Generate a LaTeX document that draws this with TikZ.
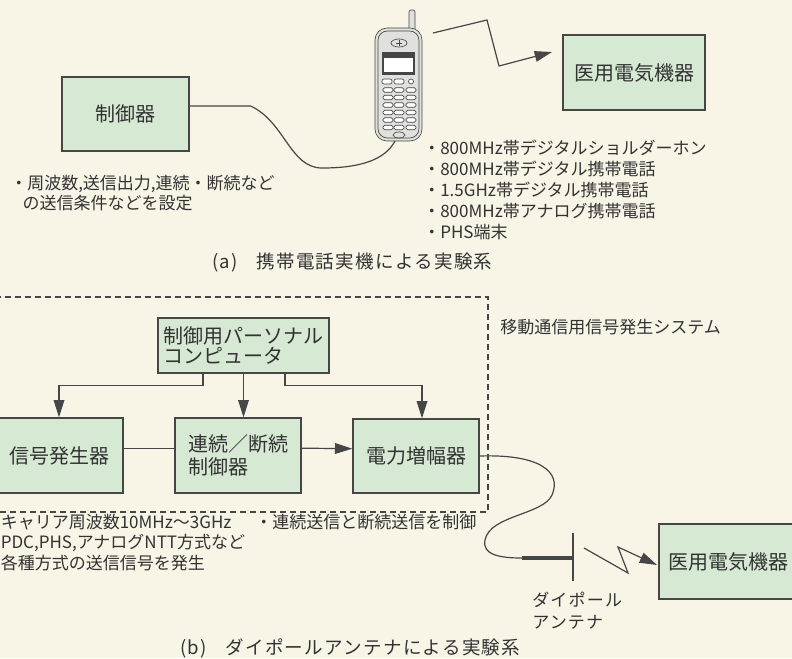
\documentclass[tikz,border=0pt]{standalone}
\usepackage{fontspec}
\setmainfont{Noto Sans CJK JP}
\newfontfamily\spaced{Noto Sans CJK JP}[LetterSpace=7]
\usetikzlibrary{arrows.meta}
\definecolor{paper}{RGB}{248,244,230}
\definecolor{boxfill}{RGB}{214,233,211}
\definecolor{ink}{RGB}{70,70,70}
\definecolor{txt}{RGB}{50,50,50}
\definecolor{phonebody}{RGB}{224,224,220}

\begin{document}
\begin{tikzpicture}[x=0.75pt,y=0.75pt,yscale=-1,
    box/.style={draw=ink, fill=boxfill, line width=1pt, inner sep=0pt, align=left, text=txt, font=\fontsize{15}{16}\selectfont},
    note/.style={anchor=west, align=left, inner sep=0pt, text=txt, font=\fontsize{12.75}{15.5}\selectfont},
    wire/.style={draw=ink, line width=0.9pt},
    arr/.style={wire, -{Triangle[length=13pt,width=8pt]}}
  ]
  % paper
  \fill[paper] (0,0) rectangle (792,658);
  \useasboundingbox (0,0) rectangle (792,658);

  % ---- (a) handset set-up ----
  \node[box, minimum width=95.25pt, minimum height=55.5pt] (ctrl) at (125.5,114) {制御器};
  \node[box, minimum width=106.5pt, minimum height=56.25pt] (medA) at (634,72.5) {医用電気機器};

  % handset
  \begin{scope}[draw=ink, line width=0.5pt]
    \filldraw[fill=phonebody, rounded corners=1.5pt] (409,10) rectangle (415,32);
    \filldraw[fill=phonebody, rounded corners=9pt] (375,28) rectangle (422,141);
    \draw[rounded corners=7pt] (378,31) rectangle (419,138);
    \draw (399,43) ellipse (8 and 4);
    \draw (399,40) -- (399,46) (396,43) -- (402,43);
    \fill[ink] (382,52) rectangle (415,75);
    \fill[white] (384,58) rectangle (413,72);
    \foreach \x in {387,399}
      \filldraw[fill=white, rounded corners=1.5pt] (\x-5,79) rectangle (\x+5,84);
    \filldraw[fill=white] (411,81.5) circle (2.5);
    \foreach \x in {388,399,411}
      \foreach \y in {90,97.5,105,112.5,120,127.5}
        \filldraw[fill=white, rounded corners=1.2pt] (\x-5,\y-2.2) rectangle (\x+5,\y+2.2);
    \draw (399,135) ellipse (6 and 3);
  \end{scope}
  \coordinate (phone) at (395,141);

  % cable and radio link
  \draw[wire] ([yshift=-6pt]ctrl.east) -- ++(61,0) .. controls (285,122) and (290,168) .. (322,168) .. controls (360,168) and (385,160) .. (phone);
  \coordinate (waveA) at (433,33);
  \coordinate (tipA) at (552,52);
  \draw[arr] (waveA) -- ++(54,-13) -- ++(12,46) -- (tipA);

  \node[note, font=\fontsize{12.75}{15}\selectfont] (setA) at (10,193) {・周波数,送信出力,連続・断続など\\\hspace{0.72em}の送信条件などを設定};
  \node[note, font=\fontsize{12.75}{15.75}\selectfont] (listA) at (423,189.5) {・800MHz帯デジタルショルダーホン\\・800MHz帯デジタル携帯電話\\・1.5GHz帯デジタル携帯電話\\・800MHz帯アナログ携帯電話\\・PHS端末};
  \node[note, font=\spaced\fontsize{13.9}{16}\selectfont] (capA) at (212,263) {(a)\quad 携帯電話実機による実験系};

  % ---- (b) dipole set-up ----
  \draw[ink, line width=0.8pt, dash pattern=on 4.5pt off 3pt] (-5,297) -- (488,297) -- (488,512) -- (-5,512);
  \node[note, font=\fontsize{12.75}{15}\selectfont] (sysB) at (500,327) {移動通信用信号発生システム};

  \node[box, minimum width=128.25pt, minimum height=41.25pt, font=\fontsize{15}{15}\selectfont] (pc) at (243.5,345.5) {制御用パーソナル\\コンピュータ};
  \node[box, minimum width=96pt, minimum height=56.25pt] (siggen) at (59,455.5) {信号発生器};
  \node[box, minimum width=94.5pt, minimum height=56.25pt, font=\fontsize{15}{17.25}\selectfont] (cont) at (238,455.5) {連続／断続\\制御器};
  \node[box, minimum width=94.5pt, minimum height=55.5pt] (amp) at (416,456) {電力増幅器};
  \node[box, minimum width=103.5pt, minimum height=56.25pt] (medB) at (728,561.5) {医用電気機器};

  \draw[arr] ([xshift=-30.4pt]pc.south) -- ++(0,12) -| (siggen.north);
  \draw[arr] (pc.south) -- (pc.south |- cont.north);
  \draw[arr] ([xshift=31.1pt]pc.south) -- ++(0,12) -| ([xshift=4.5pt]amp.north);
  \draw[wire] ([yshift=-5.5pt]siggen.east) -- ([yshift=-5.5pt]cont.west);
  \draw[arr] ([yshift=-5.5pt]cont.east) -- ([yshift=-5.5pt]amp.west);

  % feed cable and dipole
  \coordinate (feed) at (522,558);
  \coordinate (dipole) at (573,558);
  \draw[wire] (amp.east) .. controls (540,454) and (562,472) .. (552,495) .. controls (543,515) and (490,515) .. (485,540) .. controls (482,555) and (500,558) .. (feed);
  \draw[ink, line width=3.4pt] (feed) -- (dipole);
  \draw[wire] ([yshift=17pt]dipole) -- ([yshift=-19pt]dipole);
  \coordinate (waveB) at (584,548);
  \coordinate (tipB) at (657,565);
  \draw[arr] (waveB) -- ++(44,25) -- ++(-10,-26) -- (tipB);

  \node[note, font=\spaced\fontsize{12.75}{16.5}\selectfont] (dipB) at (532,611) {ダイポール\\アンテナ};
  \node[note, font=\fontsize{12.75}{15.4}\selectfont] (setB) at (0.5,542.5) {キャリア周波数10MHz～3GHz\\PDC,PHS,アナログNTT方式など\\各種方式の送信信号を発生};
  \node[note] (contB) at (255,522) {・連続送信と断続送信を制御};
  \node[note, font=\spaced\fontsize{13.9}{16}\selectfont] (capB) at (180,648) {(b)\quad ダイポールアンテナによる実験系};
\end{tikzpicture}
\end{document}
